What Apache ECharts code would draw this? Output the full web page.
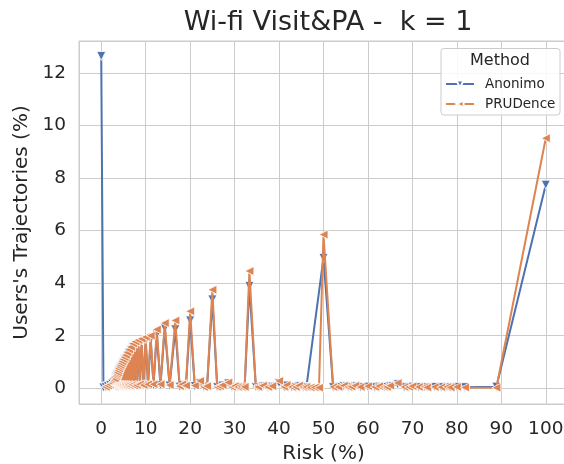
<!DOCTYPE html>
<html>
<head>
<meta charset="utf-8">
<script src="https://cdn.jsdelivr.net/npm/echarts@6/dist/echarts.min.js"></script>
<style>
  html, body { margin: 0; padding: 0; background: #fff; overflow: hidden; }
  #chart { width: 564px; height: 464px; }
</style>
</head>
<body>
<div id="chart"></div>
<script>
// Risk (%) positions and trajectory share (%) per method
var anonRisk = [0.0, 0.5, 1.0, 1.49, 2.0, 2.5, 2.86, 3.03, 3.13, 3.23, 3.33, 3.39, 3.45, 3.51, 3.57, 3.64, 3.7, 3.77, 3.85, 3.92,
  4.0, 4.08, 4.17, 4.26, 4.35, 4.44, 4.55, 4.65, 4.76, 4.88, 5.0, 5.13, 5.26, 5.41, 5.56, 5.71, 5.88, 6.06, 6.25, 6.45,
  6.67, 6.9, 7.14, 7.41, 7.69, 8.0, 8.33, 8.7, 9.09, 9.52, 10.0, 10.53, 11.11, 11.76, 12.5, 13.33, 14.29, 15.38, 16.67, 17.65,
  18.18, 19.05, 20.0, 21.05, 22.22, 23.08, 23.81, 25.0, 26.09, 26.67, 27.27, 28.57, 29.41, 30.0, 30.77, 31.58, 32.26, 33.33, 34.78, 35.29,
  36.36, 37.5, 38.46, 40.0, 41.18, 41.67, 42.86, 43.75, 44.44, 45.45, 46.15, 50.0, 52.17, 53.33, 54.55, 55.56, 56.25, 57.14, 58.33, 60.0,
  61.54, 62.5, 63.64, 64.29, 65.0, 66.67, 68.18, 69.23, 70.0, 71.43, 72.73, 73.33, 75.0, 76.47, 77.78, 78.57, 80.0, 81.82, 88.89, 100.0];
var anonValue = [12.65, 0.03, 0.05, 0.08, 0.12, 0.18, 0.22, 0.26, 0.1, 0.3, 0.4, 0.08, 0.45, 0.1, 0.5, 0.08, 0.55, 0.1, 0.62, 0.08,
  0.68, 0.1, 0.75, 0.08, 0.8, 0.1, 0.86, 0.08, 0.93, 0.1, 1.0, 0.08, 1.08, 0.1, 1.15, 0.08, 1.25, 0.1, 1.35, 0.08,
  1.45, 0.1, 1.57, 0.08, 1.65, 0.1, 1.7, 0.12, 1.74, 0.1, 1.8, 0.12, 1.85, 0.12, 2.05, 0.12, 2.28, 0.1, 2.24, 0.06,
  0.12, 0.08, 2.58, 0.08, 0.2, 0.05, 0.06, 3.38, 0.05, 0.06, 0.1, 0.18, 0.05, 0.06, 0.05, 0.04, 0.04, 3.89, 0.05, 0.04,
  0.08, 0.04, 0.06, 0.2, 0.04, 0.1, 0.04, 0.04, 0.08, 0.04, 0.04, 4.96, 0.04, 0.05, 0.08, 0.04, 0.05, 0.08, 0.04, 0.06,
  0.04, 0.06, 0.04, 0.05, 0.08, 0.15, 0.04, 0.05, 0.06, 0.04, 0.05, 0.03, 0.05, 0.04, 0.05, 0.03, 0.05, 0.04, 0.06, 7.75];

var pruRisk = [1.0, 1.49, 2.0, 2.5, 2.86, 3.03, 3.13, 3.23, 3.33, 3.39, 3.45, 3.51, 3.57, 3.64, 3.7, 3.77, 3.85, 3.92,
  4.0, 4.08, 4.17, 4.26, 4.35, 4.44, 4.55, 4.65, 4.76, 4.88, 5.0, 5.13, 5.26, 5.41, 5.56, 5.71, 5.88, 6.06, 6.25, 6.45,
  6.67, 6.9, 7.14, 7.41, 7.69, 8.0, 8.33, 8.7, 9.09, 9.52, 10.0, 10.53, 11.11, 11.76, 12.5, 13.33, 14.29, 15.38, 16.67, 17.65,
  18.18, 19.05, 20.0, 21.05, 22.22, 23.08, 23.81, 25.0, 26.09, 26.67, 27.27, 28.57, 29.41, 30.0, 30.77, 31.58, 32.26, 33.33, 34.78, 35.29,
  36.36, 37.5, 38.46, 40.0, 41.18, 41.67, 42.86, 43.75, 44.44, 45.45, 46.15, 47.06, 48.0, 48.98, 50.0, 52.17, 53.33, 54.55, 55.56, 56.25,
  57.14, 58.33, 60.0, 61.54, 62.5, 63.64, 64.29, 65.0, 66.67, 68.18, 69.23, 70.0, 71.43, 72.73, 73.33, 75.0, 76.47, 77.78, 78.57, 80.0,
  81.82, 88.89, 100.0];
var pruValue = [0.05, 0.1, 0.15, 0.2, 0.25, 0.3, 0.12, 0.35, 0.45, 0.1, 0.5, 0.12, 0.55, 0.1, 0.6, 0.12, 0.68, 0.1,
  0.75, 0.12, 0.82, 0.1, 0.88, 0.12, 0.95, 0.1, 1.02, 0.12, 1.1, 0.1, 1.18, 0.12, 1.26, 0.1, 1.36, 0.12, 1.47, 0.1,
  1.57, 0.12, 1.7, 0.1, 1.77, 0.12, 1.83, 0.15, 1.88, 0.12, 1.95, 0.15, 2.0, 0.15, 2.24, 0.15, 2.48, 0.12, 2.58, 0.08,
  0.15, 0.1, 2.93, 0.1, 0.28, 0.05, 0.08, 3.75, 0.05, 0.08, 0.12, 0.22, 0.05, 0.08, 0.05, 0.05, 0.05, 4.46, 0.05, 0.05,
  0.1, 0.05, 0.08, 0.28, 0.05, 0.12, 0.05, 0.05, 0.1, 0.05, 0.05, 0.03, 0.03, 0.02, 5.85, 0.05, 0.05, 0.1, 0.05, 0.06,
  0.1, 0.05, 0.08, 0.05, 0.08, 0.05, 0.05, 0.1, 0.2, 0.05, 0.05, 0.08, 0.05, 0.05, 0.03, 0.05, 0.04, 0.05, 0.03, 0.05,
  0.03, 0.02, 9.52];

var seriesNames = ['Anonimo', 'PRUDence'];

(function() {
  var ink = '#262626';
  var rule = '#cccccc';
  var font = 'DejaVu Sans, sans-serif';

  function pairs(xs, ys) {
    return xs.map(function(x, i) { return [x, ys[i]]; });
  }

  var chart = echarts.init(document.getElementById('chart'), null, { renderer: 'canvas' });
  chart.setOption({
    animation: false,
    backgroundColor: '#fff',
    title: {
      text: 'Wi-fi Visit&PA -  k = 1',
      left: 323,
      top: 4,
      textAlign: 'center',
      textStyle: { fontSize: 27, fontWeight: 'normal', color: ink, fontFamily: font }
    },
    grid: {
      left: 79, top: 41, width: 489, bottom: 60,
      outerBoundsMode: 'none', containLabel: false,
      show: true, borderColor: rule, borderWidth: 1
    },
    xAxis: {
      type: 'value',
      min: -5,
      max: 105,
      minInterval: 10,
      maxInterval: 10,
      name: 'Risk (%)',
      nameLocation: 'middle',
      nameGap: 38,
      nameTextStyle: { fontSize: 20, color: ink, fontFamily: font },
      axisLine: { show: false },
      axisTick: { show: false },
      axisLabel: {
        fontSize: 18.5, color: ink, fontFamily: font, margin: 16,
        formatter: function(v) { return Math.abs(v % 10) < 1e-6 ? String(v) : ''; }
      },
      splitLine: { lineStyle: { color: rule, width: 1 } }
    },
    yAxis: {
      type: 'value',
      min: -0.6,
      max: 13.22,
      minInterval: 2,
      maxInterval: 2,
      name: "Users's Trajectories (%)",
      nameLocation: 'middle',
      nameGap: 47,
      nameTextStyle: { fontSize: 20, color: ink, fontFamily: font },
      axisLine: { show: false },
      axisTick: { show: false },
      axisLabel: {
        fontSize: 18.5, color: ink, fontFamily: font, margin: 13,
        formatter: function(v) { return Math.abs(v % 2) < 1e-6 ? String(v) : ''; }
      },
      splitLine: { lineStyle: { color: rule, width: 1 } }
    },
    legend: {
      data: seriesNames,
      orient: 'vertical',
      left: 440,
      top: 71,
      z: 110,
      itemWidth: 28,
      itemHeight: 9,
      itemGap: 4,
      textStyle: { fontSize: 13.5, color: ink, fontFamily: font, lineHeight: 16, padding: [0, 0, 0, 6] }
    },
    graphic: [
      { type: 'rect', z: 100, shape: { x: 441, y: 48.5, width: 119, height: 66.5, r: 3 },
        style: { fill: 'rgba(255,255,255,0.85)', stroke: rule, lineWidth: 1 } },
      { type: 'text', z: 101, x: 500, y: 61,
        style: { text: 'Method', fontSize: 16, fill: ink, fontFamily: font, textAlign: 'center', textVerticalAlign: 'middle' } }
    ],
    series: [
      {
        name: seriesNames[0],
        type: 'line',
        data: pairs(anonRisk, anonValue),
        symbol: 'triangle',
        symbolRotate: 180,
        symbolSize: 9,
        lineStyle: { width: 2, color: '#4c72b0' },
        itemStyle: { color: '#4c72b0', borderColor: '#fff', borderWidth: 0.8 },
        emphasis: { disabled: true },
        z: 2
      },
      {
        name: seriesNames[1],
        type: 'line',
        data: pairs(pruRisk, pruValue),
        symbol: 'triangle',
        symbolRotate: 90,
        symbolSize: 9,
        lineStyle: { width: 2, color: '#dd8452' },
        itemStyle: { color: '#dd8452', borderColor: '#fff', borderWidth: 0.8 },
        emphasis: { disabled: true },
        z: 3
      }
    ]
  });
  window.addEventListener('resize', function() { chart.resize(); });
})();
</script>
</body>
</html>
